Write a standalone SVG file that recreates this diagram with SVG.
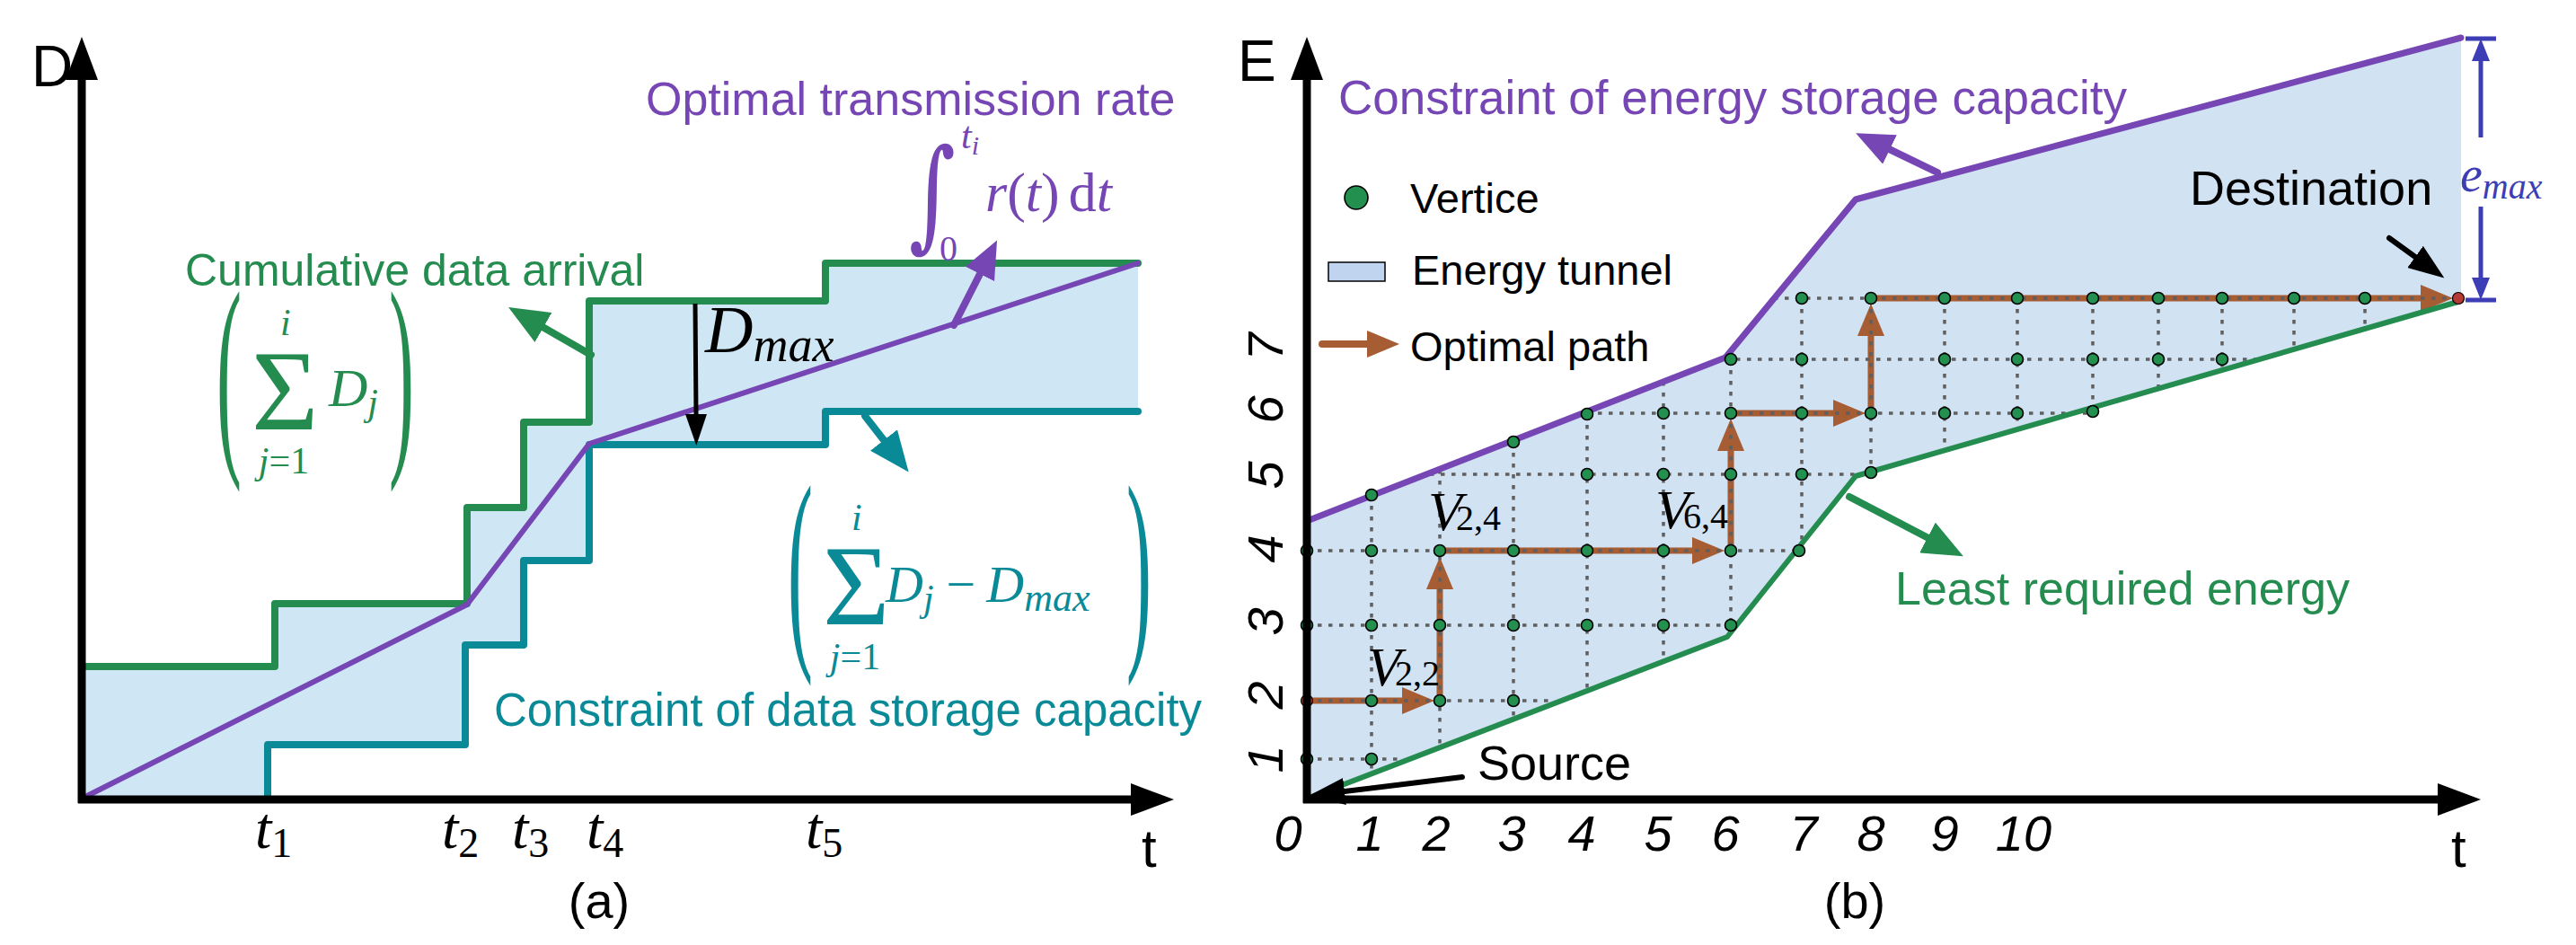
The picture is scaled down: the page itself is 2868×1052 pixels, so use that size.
<svg xmlns="http://www.w3.org/2000/svg" width="2868" height="1052" viewBox="0 0 2868 1052">
<defs>
<style>
.sans{font-family:"Liberation Sans",Arial,sans-serif}
.mi{font-family:"Liberation Serif","Times New Roman",serif;font-style:italic}
.mr{font-family:"Liberation Serif","Times New Roman",serif;font-style:normal}
.tick{font-family:"Liberation Sans",Arial,sans-serif;font-style:italic;font-size:56px;fill:#000}
.grid{fill:none;stroke:#5f5f5f;stroke-width:3.5;stroke-dasharray:4.5 7.5}
.v{fill:#23904f;stroke:#000;stroke-width:1.6}
.red{fill:#b53a36;stroke:#000;stroke-width:1.2}
.opt{fill:none;stroke:#a65d33;stroke-width:7}
.axis{fill:none;stroke:#000;stroke-width:9}
.gr{fill:#258c50}
.tl{fill:#0a8a97}
.pu{fill:#7546b4}
</style>
<marker id="mAxis" markerUnits="userSpaceOnUse" markerWidth="48" markerHeight="36" viewBox="0 0 48 36" refX="0" refY="18" orient="auto"><path d="M0,0L48,18L0,36z" fill="#000"/></marker>
<marker id="mOpt" markerUnits="userSpaceOnUse" markerWidth="36" markerHeight="30" viewBox="0 0 36 30" refX="0" refY="15" orient="auto"><path d="M0,0L36,15L0,30z" fill="#a65d33"/></marker>
<marker id="mGreen" markerUnits="userSpaceOnUse" markerWidth="45" markerHeight="38" viewBox="0 0 45 38" refX="0" refY="19" orient="auto"><path d="M0,0L45,19L0,38z" fill="#258c50"/></marker>
<marker id="mTeal" markerUnits="userSpaceOnUse" markerWidth="45" markerHeight="38" viewBox="0 0 45 38" refX="0" refY="19" orient="auto"><path d="M0,0L45,19L0,38z" fill="#0a8a97"/></marker>
<marker id="mPurple" markerUnits="userSpaceOnUse" markerWidth="42" markerHeight="36" viewBox="0 0 42 36" refX="0" refY="18" orient="auto"><path d="M0,0L42,18L0,36z" fill="#7546b4"/></marker>
<marker id="mBlack" markerUnits="userSpaceOnUse" markerWidth="40" markerHeight="30" viewBox="0 0 40 30" refX="0" refY="15" orient="auto"><path d="M0,0L40,15L0,30z" fill="#000"/></marker>
<marker id="mBlackS" markerUnits="userSpaceOnUse" markerWidth="35" markerHeight="24" viewBox="0 0 35 24" refX="0" refY="12" orient="auto"><path d="M0,0L35,12L0,24z" fill="#000"/></marker>
<marker id="mBlue" markerUnits="userSpaceOnUse" markerWidth="25" markerHeight="20" viewBox="0 0 25 20" refX="0" refY="10" orient="auto"><path d="M0,0L25,10L0,20z" fill="#3d3db5"/></marker>
</defs>
<rect width="2868" height="1052" fill="#fff"/>

<!-- ================= Panel (a) ================= -->
<g id="panel-a">
<g id="a-tunnel">
<polygon fill="#cfe7f4" points="91,742 306,742 306,672 520,672 520,565 583,565 583,470 656,470 656,335 919,335 919,293 1267,293 1267,458 919,458 919,495 656,495 656,624 583,624 583,718 518,718 518,829 298,829 298,889 91,889"/>
</g>
<g id="a-arrival">
<polyline fill="none" stroke="#258c50" stroke-width="8" stroke-linejoin="round" stroke-linecap="round" points="91,742 306,742 306,672 520,672 520,565 583,565 583,470 656,470 656,335 919,335 919,293 1267,293"/>
</g>
<g id="a-storage">
<polyline fill="none" stroke="#0a8a97" stroke-width="8" stroke-linejoin="round" stroke-linecap="round" points="298,889 298,829 518,829 518,718 583,718 583,624 656,624 656,495 919,495 919,458 1267,458"/>
</g>
<g id="a-rate">
<polyline fill="none" stroke="#7546b4" stroke-width="6" stroke-linejoin="round" stroke-linecap="round" points="91,889 520,673 656,494 1267,293"/>
</g>
<g id="a-axes">
<line class="axis" x1="91" y1="894" x2="91" y2="89" marker-end="url(#mAxis)"/>
<line class="axis" x1="87" y1="890" x2="1259" y2="890" marker-end="url(#mAxis)"/>
<text class="sans" x="35" y="96" font-size="64">D</text>
<text class="sans" x="1271" y="965" font-size="60">t</text>
<text class="sans" x="667" y="1022" font-size="56" text-anchor="middle">(a)</text>
</g>
<g id="a-ticks" fill="#000">
<text class="mi" x="284" y="944" font-size="66">t<tspan class="mr" font-size="46" dy="10">1</tspan></text>
<text class="mi" x="492" y="944" font-size="66">t<tspan class="mr" font-size="46" dy="10">2</tspan></text>
<text class="mi" x="570" y="944" font-size="66">t<tspan class="mr" font-size="46" dy="10">3</tspan></text>
<text class="mi" x="653" y="944" font-size="66">t<tspan class="mr" font-size="46" dy="10">4</tspan></text>
<text class="mi" x="897" y="944" font-size="66">t<tspan class="mr" font-size="46" dy="10">5</tspan></text>
</g>
<g id="a-label-arrival">
<text class="sans gr" x="206" y="318" font-size="50">Cumulative data arrival</text>
<line x1="658" y1="395" x2="605" y2="364.5" stroke="#258c50" stroke-width="8" stroke-linecap="round" marker-end="url(#mGreen)"/>
<g class="gr">
<text class="mr" font-size="60" transform="translate(241,495) scale(1.4,4.1)">(</text>
<text class="mr" font-size="60" transform="translate(433,495) scale(1.4,4.1)">)</text>
<text class="mi" x="312" y="373" font-size="42">i</text>
<text class="mr" x="280" y="478" font-size="128">Σ</text>
<text class="mi" x="366" y="452" font-size="60">D<tspan font-size="42" dy="10">j</tspan></text>
<text class="mi" x="316" y="527" font-size="42" text-anchor="middle">j<tspan class="mr">=1</tspan></text>
</g>
</g>
<g id="a-label-storage">
<text class="sans tl" x="550" y="808" font-size="51">Constraint of data storage capacity</text>
<line x1="963" y1="463" x2="984" y2="490" stroke="#0a8a97" stroke-width="8" stroke-linecap="round" marker-end="url(#mTeal)"/>
<g class="tl">
<text class="mr" font-size="60" transform="translate(877,711) scale(1.4,4.1)">(</text>
<text class="mr" font-size="60" transform="translate(1254,711) scale(1.4,4.1)">)</text>
<text class="mi" x="948" y="590" font-size="42">i</text>
<text class="mr" x="916" y="695" font-size="128">Σ</text>
<text class="mi" x="986" y="670" font-size="58">D<tspan font-size="42" dy="10">j</tspan><tspan class="mr" font-size="58" dy="-10" dx="14">−</tspan><tspan font-size="58" dx="12">D</tspan><tspan font-size="44" dy="10">max</tspan></text>
<text class="mi" x="952" y="745" font-size="42" text-anchor="middle">j<tspan class="mr">=1</tspan></text>
</g>
</g>
<g id="a-label-rate">
<text class="sans pu" x="719" y="128" font-size="52">Optimal transmission rate</text>
<line x1="1062" y1="362" x2="1091" y2="305" stroke="#7546b4" stroke-width="8" stroke-linecap="round" marker-end="url(#mPurple)"/>
<g class="pu">
<text font-family="DejaVu Serif, serif" font-size="100" transform="translate(1012,262) scale(1,1.35)">∫</text>
<text class="mi" x="1070" y="165" font-size="42">t<tspan font-size="30" dy="7">i</tspan></text>
<text class="mr" x="1046" y="290" font-size="40">0</text>
<text class="mi" x="1097" y="235" font-size="62">r<tspan class="mr">(</tspan>t<tspan class="mr">)</tspan><tspan class="mr" dx="10">d</tspan>t</text>
</g>
</g>
<g id="a-dmax">
<line x1="774" y1="338" x2="775" y2="461" stroke="#000" stroke-width="5" marker-end="url(#mBlackS)"/>
<text class="mi" x="785" y="392" font-size="74">D<tspan font-size="54" dy="10">max</tspan></text>
</g>
</g>

<!-- ================= Panel (b) ================= -->
<g id="panel-b">
<g id="b-tunnel">
<polygon fill="#d1e2f3" points="1455,580 1921,398 2066,222 2740,42 2740,335 2066,530 1923,709 1455,889"/>
</g>
<g id="connectors">
<g id="b-optimal-path">
<line class="opt" x1="1455" y1="780" x2="1561" y2="780" marker-end="url(#mOpt)"/>
<line class="opt" x1="1603" y1="780" x2="1603" y2="656" marker-end="url(#mOpt)"/>
<line class="opt" x1="1603" y1="613" x2="1884" y2="613" marker-end="url(#mOpt)"/>
<line class="opt" x1="1927" y1="613" x2="1927" y2="502" marker-end="url(#mOpt)"/>
<line class="opt" x1="1927" y1="460" x2="2041" y2="460" marker-end="url(#mOpt)"/>
<line class="opt" x1="2083" y1="460" x2="2083" y2="374" marker-end="url(#mOpt)"/>
<line class="opt" x1="2083" y1="332" x2="2695" y2="332" marker-end="url(#mOpt)"/>
</g>
<g id="b-grid">
<line class="grid" x1="1455" y1="845" x2="1560" y2="845"/>
<line class="grid" x1="1455" y1="780" x2="1730" y2="780"/>
<line class="grid" x1="1455" y1="696" x2="1930" y2="696"/>
<line class="grid" x1="1455" y1="613" x2="2003" y2="613"/>
<line class="grid" x1="1592" y1="528" x2="2083" y2="528"/>
<line class="grid" x1="1767" y1="460" x2="2330" y2="460"/>
<line class="grid" x1="1921" y1="400" x2="2516" y2="400"/>
<line class="grid" x1="1975" y1="332" x2="2737" y2="332"/>
<line class="grid" x1="1527" y1="551" x2="1527" y2="860"/>
<line class="grid" x1="1603" y1="523" x2="1603" y2="830"/>
<line class="grid" x1="1685" y1="492" x2="1685" y2="800"/>
<line class="grid" x1="1767" y1="461" x2="1767" y2="768"/>
<line class="grid" x1="1852" y1="425" x2="1852" y2="736"/>
<line class="grid" x1="1927" y1="400" x2="1927" y2="697"/>
<line class="grid" x1="2006" y1="332" x2="2006" y2="613"/>
<line class="grid" x1="2083" y1="332" x2="2083" y2="525"/>
<line class="grid" x1="2165" y1="332" x2="2165" y2="501"/>
<line class="grid" x1="2246" y1="332" x2="2246" y2="478"/>
<line class="grid" x1="2330" y1="332" x2="2330" y2="457"/>
<line class="grid" x1="2403" y1="332" x2="2403" y2="433"/>
<line class="grid" x1="2474" y1="332" x2="2474" y2="412"/>
<line class="grid" x1="2554" y1="332" x2="2554" y2="389"/>
<line class="grid" x1="2633" y1="332" x2="2633" y2="366"/>
</g>
<g id="b-bounds">
<polyline fill="none" stroke="#7546b4" stroke-width="7" stroke-linejoin="round" stroke-linecap="round" points="1455,580 1921,398 2066,222 2740,42"/>
<polyline fill="none" stroke="#258c50" stroke-width="6" stroke-linejoin="round" stroke-linecap="round" points="1455,889 1923,709 2066,530 2740,335"/>
</g>
<g id="b-annot-arrows">
<line x1="2157" y1="192" x2="2104" y2="166.4" stroke="#7546b4" stroke-width="8" stroke-linecap="round" marker-end="url(#mPurple)"/>
<line x1="2059" y1="553" x2="2146" y2="598.5" stroke="#258c50" stroke-width="8" stroke-linecap="round" marker-end="url(#mGreen)"/>
<line x1="1628" y1="865" x2="1497" y2="881" stroke="#000" stroke-width="6" stroke-linecap="round" marker-end="url(#mBlack)"/>
<line x1="2660" y1="265" x2="2689" y2="286" stroke="#000" stroke-width="6" stroke-linecap="round" marker-end="url(#mBlack)"/>
</g>
</g>
<g id="b-vertices">
<circle class="red" cx="1455" cy="780" r="6.5"/>
<circle class="v" cx="1455" cy="845" r="6.5"/><circle class="v" cx="1527" cy="845" r="6.5"/>
<circle class="v" cx="1527" cy="780" r="6.5"/><circle class="v" cx="1603" cy="780" r="6.5"/><circle class="v" cx="1685" cy="780" r="6.5"/>
<circle class="v" cx="1455" cy="696" r="6.5"/><circle class="v" cx="1527" cy="696" r="6.5"/><circle class="v" cx="1603" cy="696" r="6.5"/><circle class="v" cx="1685" cy="696" r="6.5"/><circle class="v" cx="1767" cy="696" r="6.5"/><circle class="v" cx="1852" cy="696" r="6.5"/><circle class="v" cx="1927" cy="696" r="6.5"/>
<circle class="v" cx="1455" cy="613" r="6.5"/><circle class="v" cx="1527" cy="613" r="6.5"/><circle class="v" cx="1603" cy="613" r="6.5"/><circle class="v" cx="1685" cy="613" r="6.5"/><circle class="v" cx="1767" cy="613" r="6.5"/><circle class="v" cx="1852" cy="613" r="6.5"/><circle class="v" cx="1927" cy="613" r="6.5"/><circle class="v" cx="2003" cy="613" r="6.5"/>
<circle class="v" cx="1767" cy="528" r="6.5"/><circle class="v" cx="1852" cy="528" r="6.5"/><circle class="v" cx="1927" cy="528" r="6.5"/><circle class="v" cx="2006" cy="528" r="6.5"/><circle class="v" cx="2083" cy="526" r="6.5"/>
<circle class="v" cx="1767" cy="461" r="6.5"/><circle class="v" cx="1852" cy="460" r="6.5"/><circle class="v" cx="1927" cy="460" r="6.5"/><circle class="v" cx="2006" cy="460" r="6.5"/><circle class="v" cx="2083" cy="460" r="6.5"/><circle class="v" cx="2165" cy="460" r="6.5"/><circle class="v" cx="2246" cy="460" r="6.5"/><circle class="v" cx="2330" cy="458" r="6.5"/>
<circle class="v" cx="1927" cy="400" r="6.5"/><circle class="v" cx="2006" cy="400" r="6.5"/><circle class="v" cx="2165" cy="400" r="6.5"/><circle class="v" cx="2246" cy="400" r="6.5"/><circle class="v" cx="2330" cy="400" r="6.5"/><circle class="v" cx="2403" cy="400" r="6.5"/><circle class="v" cx="2474" cy="400" r="6.5"/>
<circle class="v" cx="2006" cy="332" r="6.5"/><circle class="v" cx="2083" cy="332" r="6.5"/><circle class="v" cx="2165" cy="332" r="6.5"/><circle class="v" cx="2246" cy="332" r="6.5"/><circle class="v" cx="2330" cy="332" r="6.5"/><circle class="v" cx="2403" cy="332" r="6.5"/><circle class="v" cx="2474" cy="332" r="6.5"/><circle class="v" cx="2554" cy="332" r="6.5"/><circle class="v" cx="2633" cy="332" r="6.5"/>
<circle class="v" cx="1527" cy="551" r="6.5"/><circle class="v" cx="1685" cy="492" r="6.5"/>
<circle class="red" cx="2737" cy="332" r="6.5"/>
</g>
<g id="b-vlabels" fill="#000">
<text class="mi" x="1522" y="763" font-size="62">V<tspan class="mr" font-size="40" dx="-7">2,2</tspan></text>
<text class="mi" x="1590" y="590" font-size="62">V<tspan class="mr" font-size="40" dx="-7">2,4</tspan></text>
<text class="mi" x="1843" y="588" font-size="62">V<tspan class="mr" font-size="40" dx="-7">6,4</tspan></text>
</g>
<g id="b-axes">
<line class="axis" x1="1455" y1="894" x2="1455" y2="89" marker-end="url(#mAxis)"/>
<line class="axis" x1="1451" y1="890" x2="2714" y2="890" marker-end="url(#mAxis)"/>
<text class="sans" x="1378" y="90" font-size="64">E</text>
<text class="sans" x="2729" y="965" font-size="60">t</text>
<text class="sans" x="2065" y="1022" font-size="56" text-anchor="middle">(b)</text>
</g>
<g id="b-xticks" class="tick" text-anchor="middle">
<text x="1434" y="947">0</text><text x="1525" y="947">1</text><text x="1599" y="947">2</text><text x="1683" y="947">3</text><text x="1761" y="947">4</text><text x="1846" y="947">5</text><text x="1921" y="947">6</text><text x="2008" y="947">7</text><text x="2083" y="947">8</text><text x="2165" y="947">9</text><text x="2253" y="947">10</text>
</g>
<g id="b-yticks" class="tick" text-anchor="middle">
<text transform="translate(1428,845) rotate(-90)">1</text>
<text transform="translate(1428,774) rotate(-90)">2</text>
<text transform="translate(1428,692) rotate(-90)">3</text>
<text transform="translate(1428,611) rotate(-90)">4</text>
<text transform="translate(1428,529) rotate(-90)">5</text>
<text transform="translate(1428,456) rotate(-90)">6</text>
<text transform="translate(1428,386) rotate(-90)">7</text>
</g>
<g id="b-legend">
<circle class="v" cx="1510" cy="220" r="13"/>
<text class="sans" x="1570" y="237" font-size="47">Vertice</text>
<rect x="1479" y="292" width="63" height="21" fill="#c0d4f0" stroke="#000" stroke-width="1.5"/>
<text class="sans" x="1572" y="317" font-size="47">Energy tunnel</text>
<line x1="1472" y1="383" x2="1522" y2="383" stroke="#a65d33" stroke-width="8" stroke-linecap="round" marker-end="url(#mOpt)"/>
<text class="sans" x="1570" y="402" font-size="47">Optimal path</text>
</g>
<g id="b-labels">
<text class="sans pu" x="1490" y="127" font-size="53">Constraint of energy storage capacity</text>
<text class="sans gr" x="2110" y="673" font-size="52">Least required energy</text>
<text class="sans" x="2438" y="228" font-size="54">Destination</text>
<text class="sans" x="1645" y="868" font-size="54">Source</text>
</g>
<g id="b-emax" stroke="#3d3db5" stroke-width="5">
<line x1="2745" y1="43" x2="2779" y2="43"/>
<line x1="2745" y1="334" x2="2779" y2="334"/>
<line x1="2762" y1="153" x2="2762" y2="68" marker-end="url(#mBlue)"/>
<line x1="2762" y1="230" x2="2762" y2="309" marker-end="url(#mBlue)"/>
<text class="mi" x="2739" y="213" font-size="56" fill="#3d3db5" stroke="none">e<tspan font-size="40" dy="8">max</tspan></text>
</g>
</g>
</svg>
